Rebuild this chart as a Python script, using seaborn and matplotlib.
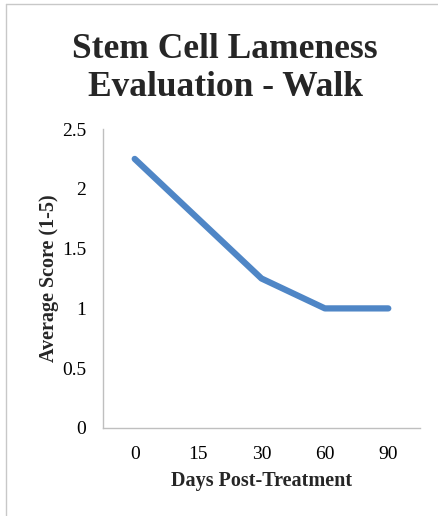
import pandas as pd
import seaborn as sns
import matplotlib.pyplot as plt
from matplotlib.lines import Line2D

# Data
days = ['0', '15', '30', '60', '90']
avg_score = [2.25, 1.75, 1.25, 1.0, 1.0]
y_ticks = [0, 0.5, 1, 1.5, 2, 2.5]
y_tick_labels = ['0', '0.5', '1', '1.5', '2', '2.5']

df = pd.DataFrame({'Days': days, 'Score': avg_score})

sns.set_theme(style='white')
plt.rcParams['font.family'] = ['Liberation Serif', 'DejaVu Serif']

fig = plt.figure(figsize=(4.39, 5.16), dpi=100)
ax = fig.add_axes([103 / 439, 1 - 428 / 516, 317 / 439, 299 / 516])

sns.lineplot(data=df, x='Days', y='Score', ax=ax, color='#4F86C6',
             linewidth=4.5, solid_capstyle='round', solid_joinstyle='round',
             sort=False)

ax.set_xlim(-0.5, 4.5)
ax.set_ylim(0, 2.5)
ax.set_yticks(y_ticks)
ax.set_yticklabels(y_tick_labels)
ax.tick_params(axis='both', length=0, labelsize=14, colors='black')
ax.tick_params(axis='x', pad=13)
ax.tick_params(axis='y', pad=12)

for side in ['top', 'right']:
    ax.spines[side].set_visible(False)
for side in ['left', 'bottom']:
    ax.spines[side].set_color('#BFBFBF')
    ax.spines[side].set_linewidth(1.0)

ax.set_xlabel('Days Post-Treatment', fontsize=14.5, fontweight='bold', labelpad=6)
ax.set_ylabel('Average Score (1-5)', fontsize=14.5, fontweight='bold', labelpad=2)

fig.text(225 / 439, 1 - 69 / 516, 'Stem Cell Lameness\nEvaluation - Walk',
         ha='center', va='center', fontsize=25.5, fontweight='bold',
         linespacing=1.2)

# light frame around the chart area
fig.add_artist(Line2D([6 / 439, 6 / 439], [0, 1 - 3.5 / 516],
                      transform=fig.transFigure, color='#C8C8C8', linewidth=1))
fig.add_artist(Line2D([6 / 439, 1], [1 - 3.5 / 516, 1 - 3.5 / 516],
                      transform=fig.transFigure, color='#C8C8C8', linewidth=1))

fig.savefig('out.png', dpi=100, facecolor='white')
